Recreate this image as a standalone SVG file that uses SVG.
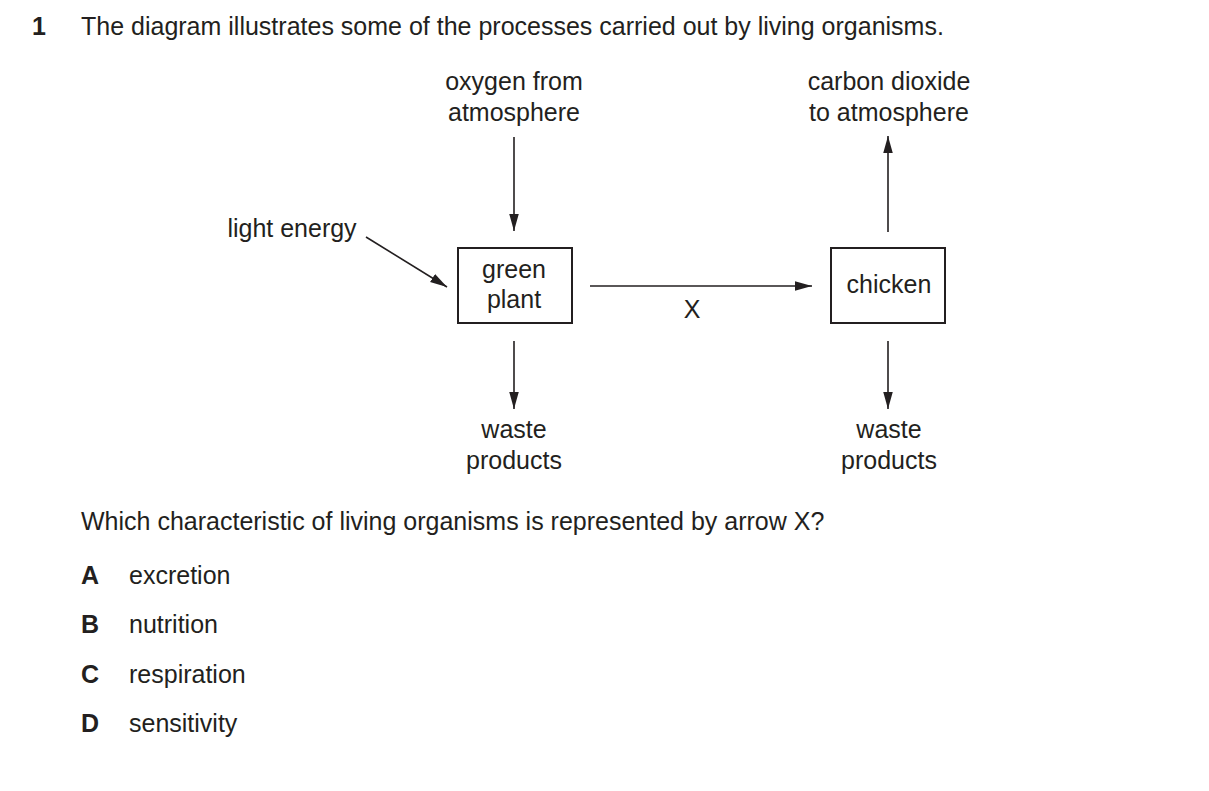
<svg xmlns="http://www.w3.org/2000/svg" width="1209" height="791" viewBox="0 0 1209 791">
<style>
text{font-family:"Liberation Sans",Arial,sans-serif;font-size:25px;fill:#231f20}
.c{text-anchor:middle}
.b{font-weight:bold}
.box{fill:#fff;stroke:#231f20;stroke-width:2}
.ln{stroke:#231f20;stroke-width:1.6;fill:none;marker-end:url(#ah)}
</style>
<defs>
<marker id="ah" viewBox="0 0 10 10" refX="10" refY="5" markerWidth="17" markerHeight="17" markerUnits="userSpaceOnUse" orient="auto">
<path d="M0,2.2 L10,5 L0,7.8 Z" fill="#231f20"/>
</marker>
</defs>
<rect width="1209" height="791" fill="#fff"/>
<text x="32" y="35" class="b">1</text>
<text x="81" y="35">The diagram illustrates some of the processes carried out by living organisms.</text>
<g id="labels">
<text x="514" y="90" class="c">oxygen from</text>
<text x="514" y="121" class="c">atmosphere</text>
<text x="889" y="90" class="c">carbon dioxide</text>
<text x="889" y="121" class="c">to atmosphere</text>
<text x="292" y="237" class="c">light energy</text>
<text x="514" y="438" class="c">waste</text>
<text x="514" y="469" class="c">products</text>
<text x="889" y="438" class="c">waste</text>
<text x="889" y="469" class="c">products</text>
<text x="692" y="318" class="c">X</text>
</g>
<g id="green-plant">
<rect class="box" x="458" y="248" width="114" height="75"/>
<text x="514" y="278" class="c">green</text>
<text x="514" y="308" class="c">plant</text>
</g>
<g id="chicken">
<rect class="box" x="831" y="248" width="114" height="75"/>
<text x="889" y="293" class="c">chicken</text>
</g>
<g id="connectors">
<line class="ln" x1="514" y1="137" x2="514" y2="231"/>
<line class="ln" x1="366" y1="237" x2="447" y2="287"/>
<line class="ln" x1="590" y1="286" x2="812" y2="286"/>
<line class="ln" x1="888" y1="232" x2="888" y2="136"/>
<line class="ln" x1="514" y1="341" x2="514" y2="409"/>
<line class="ln" x1="888" y1="341" x2="888" y2="409"/>
</g>
<text x="81" y="530">Which characteristic of living organisms is represented by arrow X?</text>
<text x="81" y="584" class="b">A</text><text x="129" y="584">excretion</text>
<text x="81" y="633" class="b">B</text><text x="129" y="633">nutrition</text>
<text x="81" y="683" class="b">C</text><text x="129" y="683">respiration</text>
<text x="81" y="732" class="b">D</text><text x="129" y="732">sensitivity</text>
</svg>
